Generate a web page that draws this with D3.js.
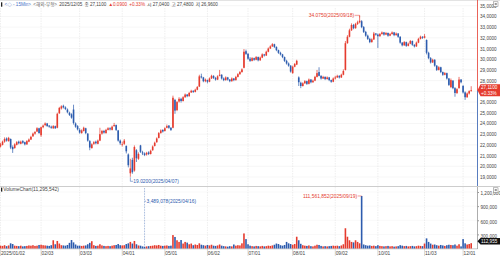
<!DOCTYPE html>
<html><head><meta charset="utf-8">
<script src="https://cdn.jsdelivr.net/npm/d3@7"></script>
<style>html,body{margin:0;padding:0;background:#fff;overflow:hidden}svg{display:block}text{font-family:"Liberation Sans","Noto Sans CJK KR",sans-serif}</style>
</head><body><svg id="c" width="500" height="257"></svg>
<script>
const year = "2025";
const dates = [
"01/02","01/03","01/06","01/07","01/08","01/10","01/13","01/14","01/15","01/16","01/17","01/21","01/22","01/23","01/24","01/27","01/28","01/29","01/30","01/31",
"02/03","02/04","02/05","02/06","02/07","02/10","02/11","02/12","02/13","02/14","02/18","02/19","02/20","02/21","02/24","02/25","02/26","02/27","02/28",
"03/03","03/04","03/05","03/06","03/07","03/10","03/11","03/12","03/13","03/14","03/17","03/18","03/19","03/20","03/21","03/24","03/25","03/26","03/27","03/28","03/31",
"04/01","04/02","04/03","04/04","04/07","04/08","04/09","04/10","04/11","04/14","04/15","04/16","04/17","04/21","04/22","04/23","04/24","04/25","04/28","04/29","04/30",
"05/01","05/02","05/05","05/06","05/07","05/08","05/09","05/12","05/13","05/14","05/15","05/16","05/19","05/20","05/21","05/22","05/23","05/27","05/28","05/29","05/30",
"06/02","06/03","06/04","06/05","06/06","06/09","06/10","06/11","06/12","06/13","06/16","06/17","06/18","06/20","06/23","06/24","06/25","06/26","06/27","06/30",
"07/01","07/02","07/03","07/07","07/08","07/09","07/10","07/11","07/14","07/15","07/16","07/17","07/18","07/21","07/22","07/23","07/24","07/25","07/28","07/29","07/30","07/31",
"08/01","08/04","08/05","08/06","08/07","08/08","08/11","08/12","08/13","08/14","08/15","08/18","08/19","08/20","08/21","08/22","08/25","08/26","08/27","08/28","08/29",
"09/02","09/03","09/04","09/05","09/08","09/09","09/10","09/11","09/12","09/15","09/16","09/17","09/18","09/19","09/22","09/23","09/24","09/25","09/26","09/29","09/30",
"10/01","10/02","10/03","10/06","10/07","10/08","10/09","10/10","10/13","10/14","10/15","10/16","10/17","10/20","10/21","10/22","10/23","10/24","10/27","10/28","10/29","10/30","10/31",
"11/03","11/04","11/05","11/06","11/07","11/10","11/11","11/12","11/13","11/14","11/17","11/18","11/19","11/20","11/21","11/24","11/25","11/26","11/28",
"12/01","12/02","12/03","12/04","12/05"];

const opens = [
21.85,22.00,22.30,22.60,22.35,22.55,21.80,21.70,22.00,22.30,
22.10,22.35,22.25,22.05,22.30,22.50,22.80,23.05,23.25,23.55,
22.90,23.65,23.85,24.00,23.80,23.70,23.55,23.75,23.60,24.95,
25.40,25.65,25.50,25.30,25.00,24.85,25.30,24.00,23.75,23.40,
23.10,23.30,23.55,23.05,22.35,21.70,22.10,22.30,22.10,22.40,
23.05,23.30,23.10,23.40,23.55,23.40,23.75,23.85,23.35,22.40,
22.00,22.10,21.90,21.10,19.35,20.60,19.60,21.50,20.70,21.95,
21.30,21.20,21.10,21.30,21.15,21.50,21.90,22.25,22.65,23.10,
23.40,23.30,23.60,23.80,23.60,23.60,26.20,25.25,26.05,26.30,
26.10,26.45,26.70,26.55,26.90,27.05,26.95,27.15,27.45,28.40,
28.30,27.95,28.05,27.90,28.20,28.45,28.25,28.10,28.45,28.55,
28.20,28.05,28.30,28.10,27.95,28.20,28.05,28.35,28.60,28.80,
29.20,30.75,30.50,30.05,29.85,30.10,29.95,30.20,29.90,30.15,
30.45,30.35,30.70,31.00,31.20,31.40,31.15,30.85,30.60,30.45,
30.20,29.85,29.60,29.40,28.70,29.30,29.50,28.30,27.80,27.50,
27.75,27.95,27.70,28.10,27.85,28.00,28.35,28.80,28.45,28.20,
28.35,28.15,28.30,28.05,27.90,28.20,28.30,28.45,28.30,28.55,
29.00,31.50,32.10,32.70,33.20,32.90,33.30,33.45,33.55,33.00,
32.55,32.20,31.90,31.60,31.85,32.40,32.30,32.15,32.35,32.50,
32.30,32.45,32.20,32.35,32.50,32.25,32.40,32.10,31.55,31.30,
31.60,31.25,31.45,31.70,31.35,31.20,31.55,31.90,32.10,32.00,
31.80,30.60,30.10,29.70,29.95,29.40,29.00,29.25,28.80,28.55,
28.70,28.20,27.40,28.00,27.30,26.85,27.30,28.10,27.50,26.90,
26.45,26.80,27.04];

const highs = [
22.20,22.40,22.70,22.70,22.75,22.60,21.95,22.15,22.35,22.40,
22.40,22.45,22.30,22.45,22.60,22.85,23.15,23.30,23.65,23.60,
23.70,23.90,24.10,24.05,23.85,23.80,23.85,23.80,25.00,25.55,
25.70,25.75,25.60,25.40,25.10,24.95,25.75,24.10,23.85,23.55,
23.45,23.70,23.60,23.10,22.45,22.15,22.35,22.40,22.50,23.60,
23.40,23.40,23.50,23.65,23.65,23.80,24.05,23.90,23.40,22.50,
22.30,22.55,21.95,21.20,20.70,20.80,21.95,21.60,21.30,22.00,
21.45,21.30,21.35,21.40,21.55,21.95,22.30,22.70,23.20,23.45,
23.45,23.65,23.90,23.85,23.65,26.60,26.30,26.10,26.45,26.40,
26.55,26.80,26.75,26.95,27.15,27.10,27.25,27.50,28.55,28.65,
28.35,28.20,28.10,28.30,28.55,28.50,28.35,28.50,29.00,28.60,
28.30,28.40,28.35,28.15,28.30,28.25,28.45,28.70,28.90,29.15,
30.95,30.90,30.60,30.20,30.20,30.15,30.30,30.25,30.25,30.55,
30.50,30.80,31.10,31.30,31.50,31.45,31.20,30.90,30.70,30.50,
30.25,29.95,29.70,29.45,29.40,29.65,29.95,28.40,27.90,27.85,
28.05,28.00,28.20,28.15,28.10,28.45,29.00,29.25,28.50,28.45,
28.40,28.40,28.35,28.10,28.30,28.45,28.55,28.50,28.65,29.05,
31.70,32.25,32.85,33.35,33.30,33.40,33.60,34.075,33.65,33.10,
32.65,32.30,32.00,31.95,32.55,32.45,32.40,32.45,32.60,32.55,
32.55,32.50,32.45,32.60,32.55,32.50,32.45,32.15,31.60,31.70,
31.65,31.55,31.80,31.75,31.40,31.65,32.00,32.20,32.15,32.35,
31.85,30.70,30.20,30.05,30.00,29.45,29.35,29.30,28.85,28.80,
28.75,28.25,28.20,28.05,27.40,27.30,28.35,28.15,27.60,27.00,
26.90,27.10,27.48];

const lows = [
21.75,21.95,22.20,22.30,22.30,21.60,21.25,21.65,21.95,22.05,
22.05,22.10,21.95,22.00,22.25,22.45,22.75,22.95,23.20,23.05,
22.75,23.55,23.75,23.70,23.60,23.50,23.50,23.50,23.55,24.90,
25.30,25.40,25.25,24.95,24.70,24.45,23.90,23.60,23.35,23.05,
23.05,23.25,23.00,22.30,21.50,21.65,22.00,22.05,22.05,22.35,
22.95,23.05,23.05,23.35,23.35,23.35,23.70,23.30,22.30,22.00,
21.85,22.00,21.20,19.90,19.02,19.30,19.50,20.40,20.60,21.25,
21.05,20.95,21.00,21.05,21.10,21.45,21.85,22.20,22.60,23.05,
23.15,23.25,23.55,23.50,23.30,23.55,24.90,25.15,25.95,25.95,
26.05,26.40,26.45,26.50,26.85,26.85,26.90,27.10,27.40,28.20,
27.85,27.85,27.75,27.85,28.15,28.15,28.00,28.05,28.40,28.10,
27.95,28.00,28.00,27.85,27.90,27.95,28.00,28.30,28.55,28.75,
29.15,30.40,29.95,29.75,29.80,29.85,29.90,29.80,29.85,30.10,
30.25,30.30,30.65,30.95,31.15,31.05,30.75,30.50,30.35,30.10,
29.75,29.50,29.30,28.75,28.65,29.25,29.45,27.50,27.30,27.45,
27.70,27.60,27.65,27.75,27.80,27.95,28.30,28.40,28.10,28.15,
28.05,28.10,27.95,27.80,27.85,28.10,28.25,28.20,28.25,28.50,
28.95,31.45,32.05,32.65,32.80,32.85,33.20,33.35,32.90,32.45,
32.10,31.80,31.50,31.55,31.80,32.20,31.05,32.10,32.30,32.20,
32.25,32.10,32.15,32.30,32.15,32.20,32.00,31.45,31.20,31.25,
31.15,31.20,31.40,31.25,31.10,31.15,31.50,31.85,31.90,31.95,
30.45,30.00,29.60,29.65,29.30,28.90,28.95,28.70,28.45,28.50,
28.10,27.50,27.30,27.20,26.50,26.75,27.25,27.75,26.80,26.20,
26.40,26.70,26.96];

const closes = [
22.05,22.30,22.55,22.40,22.65,21.75,21.60,22.05,22.25,22.15,
22.30,22.20,22.05,22.35,22.50,22.75,23.05,23.20,23.55,23.10,
23.65,23.80,24.00,23.75,23.70,23.60,23.75,23.55,24.90,25.45,
25.60,25.50,25.35,25.05,24.80,24.55,24.05,23.70,23.45,23.15,
23.35,23.60,23.10,22.40,21.75,22.05,22.25,22.15,22.40,23.00,
23.30,23.15,23.40,23.55,23.45,23.70,23.85,23.40,22.40,22.15,
22.05,22.40,21.40,20.10,19.80,19.45,21.80,20.75,21.15,21.35,
21.20,21.05,21.25,21.15,21.45,21.85,22.20,22.60,23.10,23.35,
23.25,23.55,23.75,23.60,23.40,26.40,25.20,26.00,26.30,26.10,
26.45,26.70,26.55,26.85,27.05,26.95,27.15,27.40,28.40,28.30,
27.95,28.10,27.90,28.20,28.45,28.25,28.10,28.40,28.55,28.20,
28.05,28.30,28.10,27.95,28.20,28.05,28.35,28.60,28.80,29.05,
30.70,30.50,30.05,29.85,30.10,29.95,30.20,29.90,30.15,30.45,
30.35,30.70,31.00,31.20,31.40,31.15,30.85,30.60,30.45,30.20,
29.85,29.60,29.40,28.85,29.30,29.55,29.85,27.85,27.50,27.75,
27.95,27.70,28.10,27.85,28.00,28.35,28.70,28.45,28.20,28.35,
28.15,28.30,28.05,27.90,28.20,28.30,28.45,28.30,28.55,28.90,
31.50,32.10,32.70,33.20,32.90,33.30,33.45,33.60,33.00,32.55,
32.20,31.90,31.60,31.85,32.40,32.30,32.15,32.35,32.50,32.30,
32.45,32.20,32.35,32.50,32.25,32.40,32.10,31.55,31.30,31.60,
31.25,31.45,31.70,31.35,31.20,31.55,31.90,32.10,32.00,32.15,
30.60,30.10,29.70,29.95,29.40,29.00,29.25,28.80,28.55,28.70,
28.20,27.60,28.05,27.30,26.85,27.20,28.10,27.85,26.90,26.45,
26.80,27.02,27.11];

const volumes = [
6000000,5500000,7000000,5000000,6500000,11000000,9500000,6000000,5500000,5000000,
6000000,4500000,5000000,5500000,6500000,6000000,7000000,5500000,6000000,7500000,
8000000,7000000,6500000,6000000,5500000,7000000,17500000,9000000,16000000,10500000,
7000000,6500000,6000000,7500000,12000000,18000000,13000000,8500000,6000000,
6000000,5500000,6000000,6500000,9000000,12000000,15500000,7000000,5500000,6000000,
9000000,6500000,5500000,5000000,5500000,5000000,6000000,7000000,7500000,9500000,7000000,
6500000,7000000,9500000,11000000,14000000,10500000,16000000,9000000,6500000,6000000,
4500000,3489078,4500000,5000000,5500000,6000000,7000000,6500000,7500000,6000000,5500000,
6000000,6500000,5500000,6000000,28500000,24500000,17500000,14000000,18000000,10500000,
14000000,12500000,9000000,10500000,7000000,8500000,7500000,11000000,8000000,7000000,6000000,
7500000,6500000,8000000,6000000,5500000,6500000,8500000,6000000,5000000,4500000,
4000000,5000000,4500000,8500000,6000000,7000000,6500000,11000000,32000000,20000000,
9000000,6000000,5000000,4500000,5500000,5000000,4500000,5500000,4500000,5000000,
6000000,5500000,6500000,8000000,10500000,9500000,7000000,6000000,7500000,14000000,11000000,9500000,
8000000,9500000,25000000,17500000,10000000,7000000,6000000,5500000,6500000,5000000,
4500000,6000000,8000000,7500000,5500000,4500000,5000000,4500000,5000000,5500000,6000000,
5500000,6000000,5000000,6500000,9000000,43000000,25000000,17500000,14000000,13000000,
17500000,14000000,11000000,111561852,8500000,7000000,6000000,6500000,5500000,6000000,5000000,
7000000,5500000,5000000,4500000,5000000,5500000,4500000,5000000,4000000,4500000,
5000000,7000000,6000000,5000000,5500000,4500000,5000000,5500000,4500000,5000000,6000000,5500000,5000000,
10500000,21500000,14000000,10500000,8000000,8500000,7000000,6000000,7500000,6500000,
5500000,7000000,8000000,7500000,7000000,8500000,6000000,9000000,4500000,
20000000,11000000,8500000,9500000,11295542];

const monthTicks = ["01/02","02/03","03/03","04/01","05/01","06/02","07/01","08/01","09/02","10/01","11/03","12/01"];
const priceTicks = [19,20,21,22,23,24,25,26,27,28,29,30,31,32,33,34,35];
const volumeTicks = [30000000,60000000,90000000,120000000];
const headerName = "<◇ - 15Min>";
const headerMarket = "<해외-무형>";

const RED = "#e53b2e", BLUE = "#2d5cae";
const PR = 477.5;
const svg = d3.select("#c");

const x = d3.scalePoint().domain(dates).range([0.5, 471.2]);
const y = d3.scaleLinear().domain([19, 35]).range([177, 5.7]);
const yv = d3.scaleLinear().domain([0, 120000000]).range([248.5, 192]);
const data = dates.map((d, i) => ({d, o: opens[i], h: highs[i], l: lows[i], c: closes[i], v: volumes[i]}));
const col = d => d.c >= d.o ? RED : BLUE;
const fmtP = v => d3.format(".4f")(v).replace(".", ",");

// frame lines
svg.append("line").attr("x1",0).attr("x2",500).attr("y1",0.5).attr("y2",0.5).attr("stroke","#d0d0d0").attr("stroke-width",0.6);
svg.append("line").attr("x1",0).attr("x2",500).attr("y1",186.5).attr("y2",186.5).attr("stroke","#b8b8b8").attr("stroke-width",0.7);
svg.append("line").attr("x1",0).attr("x2",PR).attr("y1",248.8).attr("y2",248.8).attr("stroke","#a0a0a0").attr("stroke-width",0.6);

// grids
svg.append("g").selectAll("line").data(priceTicks).join("line")
  .attr("x1",0).attr("x2",PR).attr("y1",d=>y(d)).attr("y2",d=>y(d))
  .attr("stroke","#ececec").attr("stroke-width",0.5);
svg.append("g").selectAll("line").data(volumeTicks).join("line")
  .attr("x1",0).attr("x2",PR).attr("y1",d=>yv(d)).attr("y2",d=>yv(d))
  .attr("stroke","#f0f0f0").attr("stroke-width",0.5);
const vg = svg.append("g");
monthTicks.forEach(m => {
  vg.append("line").attr("x1",x(m)).attr("x2",x(m)).attr("y1",8).attr("y2",186)
    .attr("stroke","#dedede").attr("stroke-width",0.5).attr("stroke-dasharray","1.5,1");
  vg.append("line").attr("x1",x(m)).attr("x2",x(m)).attr("y1",187).attr("y2",248.8)
    .attr("stroke","#dedede").attr("stroke-width",0.5).attr("stroke-dasharray","1.5,1");
  vg.append("line").attr("x1",x(m)).attr("x2",x(m)).attr("y1",248.8).attr("y2",256)
    .attr("stroke","#b0b0b0").attr("stroke-width",0.5);
});

// candles
const cg = svg.append("g");
cg.selectAll("line").data(data).join("line")
  .attr("x1",d=>x(d.d)).attr("x2",d=>x(d.d)).attr("y1",d=>y(d.h)).attr("y2",d=>y(d.l))
  .attr("stroke",col).attr("stroke-width",0.7);
cg.selectAll("rect").data(data).join("rect")
  .attr("x",d=>x(d.d)-0.8).attr("width",1.6)
  .attr("y",d=>y(Math.max(d.o,d.c)))
  .attr("height",d=>Math.max(0.7, Math.abs(y(d.o)-y(d.c))))
  .attr("fill",col);

// volume bars
svg.append("g").selectAll("rect").data(data).join("rect")
  .attr("x",d=>x(d.d)-0.8).attr("width",1.6)
  .attr("y",d=>yv(d.v)).attr("height",d=>Math.max(0.5, yv(0)-yv(d.v)))
  .attr("fill",col);

// right price axis
const last = data[data.length-1], prev = data[data.length-2];
svg.append("line").attr("x1",PR).attr("x2",PR).attr("y1",0).attr("y2",y(last.c)).attr("stroke",RED).attr("stroke-width",0.8);
svg.append("line").attr("x1",PR).attr("x2",PR).attr("y1",y(last.c)).attr("y2",186).attr("stroke",BLUE).attr("stroke-width",0.8);
const ax = svg.append("g").attr("transform",`translate(${PR},0)`)
  .call(d3.axisRight(y).tickValues(priceTicks).tickSize(0).tickPadding(2.5).tickFormat(fmtP));
ax.select(".domain").remove();
ax.selectAll("text").attr("font-size",4.6).attr("fill","#444").attr("font-family","Liberation Sans, sans-serif");

// volume axis
svg.append("line").attr("x1",PR).attr("x2",PR).attr("y1",187).attr("y2",249).attr("stroke","#8a8a8a").attr("stroke-width",0.7);
const avx = svg.append("g").attr("transform",`translate(${PR},0)`)
  .call(d3.axisRight(yv).tickValues(volumeTicks).tickSize(1.5).tickPadding(1.5).tickFormat(d=>d3.format(",")(d/100)));
avx.select(".domain").remove();
avx.selectAll("line").attr("stroke","#999");
avx.selectAll("text").attr("font-size",4.6).attr("fill","#444").attr("font-family","Liberation Sans, sans-serif").attr("dy","0.6em");

// corner icons
[[493.5,1.8],[493.5,187.8]].forEach(([a,b])=>{
  svg.append("rect").attr("x",a).attr("y",b).attr("width",4.5).attr("height",4.5).attr("fill","#fff").attr("stroke","#777").attr("stroke-width",0.5);
  svg.append("rect").attr("x",a+1.2).attr("y",b+1.2).attr("width",2.1).attr("height",2.1).attr("fill","#999");
});

// current price marker
const cy = y(last.c);
svg.append("path").attr("d",`M${PR},${cy} L${PR+3},${cy-6} H500 V${cy+6.2} H${PR+3} Z`).attr("fill",RED);
const chg = last.c - prev.c, pct = chg / prev.c * 100;
svg.append("text").attr("x",481).attr("y",cy-1).attr("font-size",4.6).attr("fill","#fff").text(fmtP(last.c));
svg.append("text").attr("x",481).attr("y",cy+4.4).attr("font-size",4.6).attr("fill","#fff").text("+" + d3.format(".2f")(pct) + "%");

// current volume marker
const vy = yv(last.v) - 2;
svg.append("path").attr("d",`M${PR},${vy} L${PR+3},${vy-3.2} H500 V${vy+3.2} H${PR+3} Z`).attr("fill","#111");
svg.append("text").attr("x",481).attr("y",vy+1.7).attr("font-size",4.6).attr("fill","#fff").text(d3.format(",")(Math.round(last.v/100)));

// x-axis labels
svg.append("g").selectAll("text").data(monthTicks).join("text")
  .attr("x",d=>x(d)+0.4).attr("y",255.2).attr("font-size",4.8).attr("fill","#444")
  .text((d,i)=> i===0 ? year + "/" + d : d);

// annotations: high / low
const hi = data.reduce((a,b)=> b.h > a.h ? b : a);
const lo = data.reduce((a,b)=> b.l < a.l ? b : a);
const hx = x(hi.d), hy = y(hi.h);
svg.append("path").attr("d",`M${hx-5},${hy-0.3} H${hx} V${hy+1.8}`).attr("fill","none").attr("stroke",RED).attr("stroke-width",0.5);
svg.append("text").attr("x",hx-5.5).attr("y",hy+1.4).attr("text-anchor","end").attr("font-size",4.9).attr("fill",RED)
  .text(d3.format(".4f")(hi.h) + "(" + year + "/" + hi.d + ")");
const lx = x(lo.d), ly = y(lo.l);
svg.append("path").attr("d",`M${lx},${ly+0.5} V${ly+4.5} H${lx+2.8}`).attr("fill","none").attr("stroke",BLUE).attr("stroke-width",0.5);
svg.append("text").attr("x",lx+3).attr("y",ly+6.2).attr("font-size",4.9).attr("fill",BLUE)
  .text(d3.format(".4f")(lo.l) + "(" + year + "/" + lo.d + ")");

// annotations: volume max / min
const vmax = data.reduce((a,b)=> b.v > a.v ? b : a);
const vmin = data.reduce((a,b)=> b.v < a.v ? b : a);
const mx = x(vmax.d), my = yv(vmax.v);
svg.append("path").attr("d",`M${mx-4},${my} H${mx}`).attr("stroke",RED).attr("stroke-width",0.5);
svg.append("text").attr("x",mx-4.5).attr("y",my+1.7).attr("text-anchor","end").attr("font-size",4.9).attr("fill",RED)
  .text(d3.format(",")(vmax.v) + "(" + year + "/" + vmax.d + ")");
const nx = x(vmin.d);
svg.append("line").attr("x1",nx).attr("x2",nx).attr("y1",188).attr("y2",yv(vmin.v)).attr("stroke",BLUE).attr("stroke-width",0.5).attr("stroke-dasharray","0.8,0.8");
svg.append("line").attr("x1",nx).attr("x2",nx+1.5).attr("y1",201.2).attr("y2",201.2).attr("stroke",BLUE).attr("stroke-width",0.5);
svg.append("text").attr("x",nx+2).attr("y",203).attr("font-size",4.9).attr("fill",BLUE)
  .text(d3.format(",")(vmin.v) + "(" + year + "/" + vmin.d + ")");

// header: items flow one after another with a small gap
svg.append("rect").attr("x",1).attr("y",2.3).attr("width",1.3).attr("height",4.4).attr("fill","#222");
const hdrItems = [
  [headerName, "#4a74c9"],
  [headerMarket, "#666"],
  [year + "/" + last.d, "#444"],
  ["종 " + fmtP(last.c), "#444"],
  ["▲" + d3.format(".4f")(chg), RED],
  ["+" + d3.format(".2f")(pct) + "%", RED],
  ["시 " + fmtP(last.o), "#444"],
  ["고 " + fmtP(last.h), "#444"],
  ["저 " + fmtP(last.l), "#444"]
];
let hxPos = 4.5;
hdrItems.forEach(([t, c]) => {
  const el = svg.append("text").attr("x", hxPos).attr("y", 6.4).attr("font-size", 4.6).attr("fill", c).text(t);
  hxPos += el.node().getComputedTextLength() + 2.2;
});

// volume panel label
svg.append("rect").attr("x",1).attr("y",187.6).attr("width",1.3).attr("height",4).attr("fill","#222");
svg.append("text").attr("x",3.2).attr("y",191.4).attr("font-size",4.9).attr("fill","#444")
  .text("VolumeChart(" + d3.format(",")(last.v) + ")");
</script></body></html>
